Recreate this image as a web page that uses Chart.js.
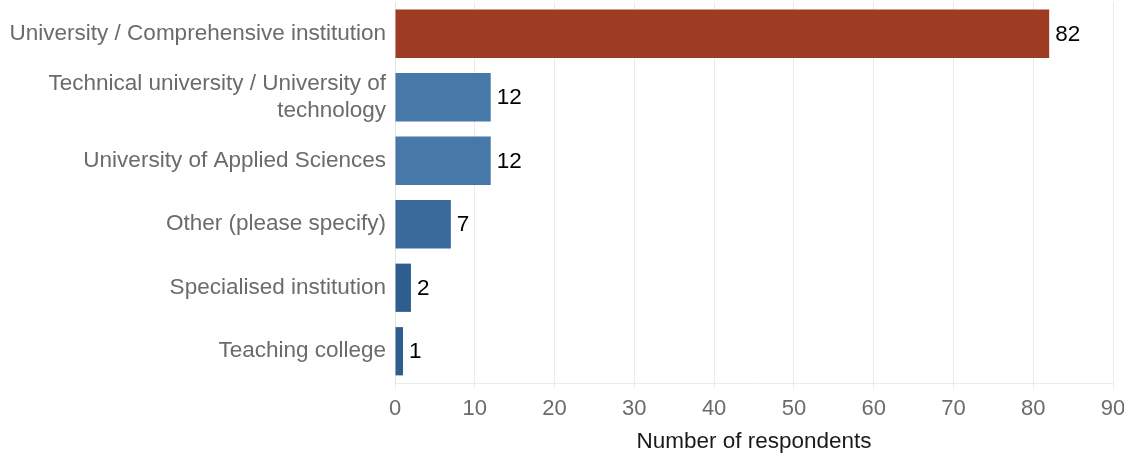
<!DOCTYPE html>
<html>
<head>
<meta charset="utf-8">
<script src="https://cdn.jsdelivr.net/npm/chart.js@4.4.1/dist/chart.umd.min.js"></script>
<style>
  html, body { margin: 0; padding: 0; background: #ffffff; }
  #wrap { width: 1124px; height: 456px; position: relative; }
</style>
</head>
<body>
<div id="wrap"><canvas id="barChart"></canvas></div>
<script>
const categories = [
    "University / Comprehensive institution",
    ["Technical university / University of", "technology"],
    "University of Applied Sciences",
    "Other (please specify)",
    "Specialised institution",
    "Teaching college"
];
const respondents = [82, 12, 12, 7, 2, 1];
const barColors = ["#9e3c23", "#4779a8", "#4779a8", "#396a9b", "#2e5e8d", "#2e5e8d"];
const xTicks = [0, 10, 20, 30, 40, 50, 60, 70, 80, 90];

const FONT = "'Liberation Sans', Arial, sans-serif";

const valueLabels = {
    id: "valueLabels",
    afterDatasetsDraw(chart) {
        const { ctx } = chart;
        const meta = chart.getDatasetMeta(0);
        ctx.save();
        ctx.font = "22.5px " + FONT;
        ctx.fillStyle = "#000000";
        ctx.textAlign = "left";
        ctx.textBaseline = "middle";
        meta.data.forEach((bar, i) => {
            ctx.fillText(String(respondents[i]), bar.x + 6, bar.y + 1);
        });
        ctx.restore();
    }
};

const ctx = document.getElementById("barChart").getContext("2d");
new Chart(ctx, {
    type: "bar",
    data: {
        labels: categories,
        datasets: [{
            data: respondents,
            backgroundColor: barColors,
            borderWidth: 0,
            categoryPercentage: 1,
            barPercentage: 0.76
        }]
    },
    options: {
        indexAxis: "y",
        responsive: true,
        maintainAspectRatio: false,
        animation: false,
        layout: { padding: { left: 0, right: 11, top: 2, bottom: 0 } },
        plugins: {
            legend: { display: false },
            tooltip: { enabled: false }
        },
        scales: {
            x: {
                min: 0,
                max: 90,
                afterBuildTicks(scale) {
                    scale.ticks = xTicks.map(v => ({ value: v }));
                },
                afterFit(scale) {
                    scale.height = 73;
                    scale.paddingLeft = 0;
                    scale.paddingRight = 0;
                },
                grid: {
                    color: "#ebebeb",
                    lineWidth: 1,
                    tickLength: 6,
                    drawTicks: true
                },
                border: { color: "#ebebeb" },
                ticks: {
                    color: "#6b6b6b",
                    font: { family: FONT, size: 22 },
                    padding: 7
                },
                title: {
                    display: true,
                    text: "Number of respondents",
                    color: "#1a1a1a",
                    font: { family: FONT, size: 22.5 },
                    padding: { top: 4, bottom: 1 }
                }
            },
            y: {
                afterFit(scale) {
                    scale.width = 395;
                    scale.paddingTop = 0;
                    scale.paddingBottom = 0;
                },
                grid: { display: false, drawTicks: false },
                border: { color: "#e3e3e3", dash: [3, 3] },
                ticks: {
                    color: "#6b6b6b",
                    font: { family: FONT, size: 22.5, lineHeight: 1.17 },
                    padding: 9
                }
            }
        }
    },
    plugins: [valueLabels]
});
</script>
</body>
</html>
